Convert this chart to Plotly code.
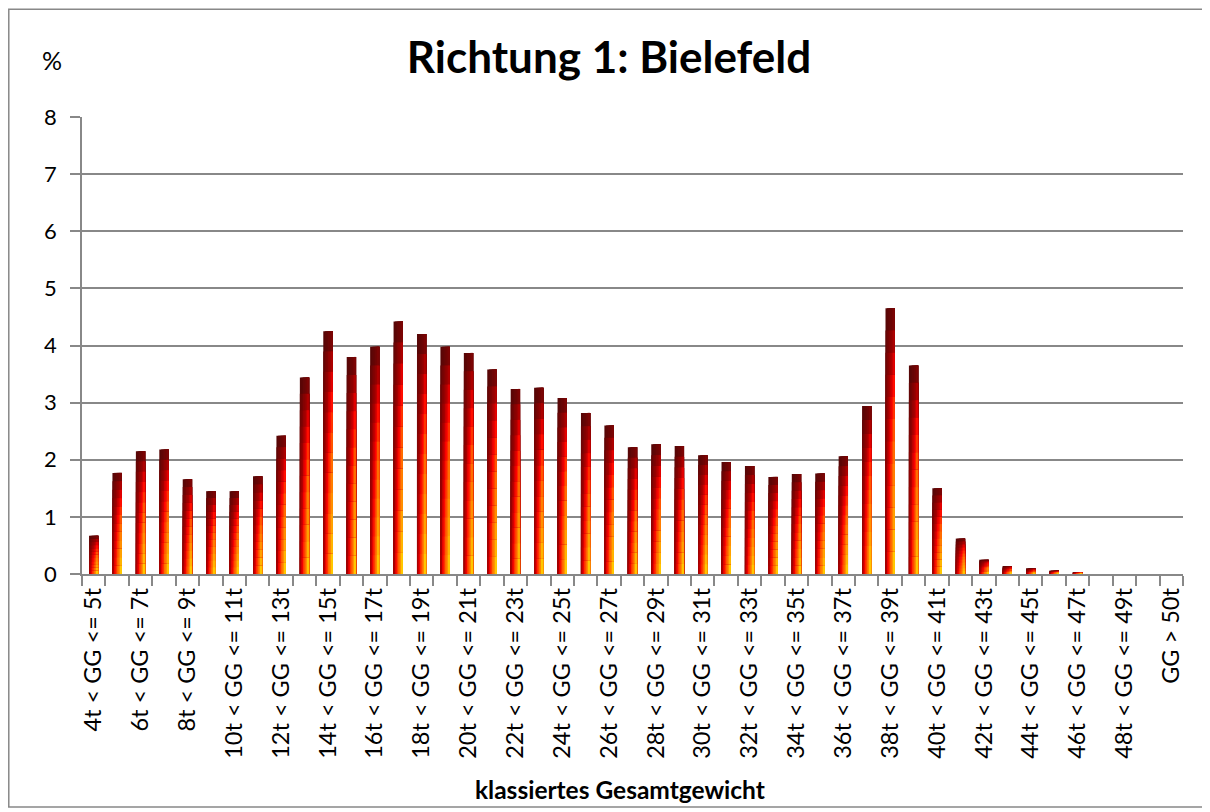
import plotly.graph_objects as go

categories = [
    "4t < GG <= 5t", "5t < GG <= 6t", "6t < GG <= 7t", "7t < GG <= 8t",
    "8t < GG <= 9t", "9t < GG <= 10t", "10t < GG <= 11t", "11t < GG <= 12t",
    "12t < GG <= 13t", "13t < GG <= 14t", "14t < GG <= 15t", "15t < GG <= 16t",
    "16t < GG <= 17t", "17t < GG <= 18t", "18t < GG <= 19t", "19t < GG <= 20t",
    "20t < GG <= 21t", "21t < GG <= 22t", "22t < GG <= 23t", "23t < GG <= 24t",
    "24t < GG <= 25t", "25t < GG <= 26t", "26t < GG <= 27t", "27t < GG <= 28t",
    "28t < GG <= 29t", "29t < GG <= 30t", "30t < GG <= 31t", "31t < GG <= 32t",
    "32t < GG <= 33t", "33t < GG <= 34t", "34t < GG <= 35t", "35t < GG <= 36t",
    "36t < GG <= 37t", "37t < GG <= 38t", "38t < GG <= 39t", "39t < GG <= 40t",
    "40t < GG <= 41t", "41t < GG <= 42t", "42t < GG <= 43t", "43t < GG <= 44t",
    "44t < GG <= 45t", "45t < GG <= 46t", "46t < GG <= 47t", "47t < GG <= 48t",
    "48t < GG <= 49t", "49t < GG <= 50t", "GG > 50t",
]

values = [
    0.67, 1.77, 2.15, 2.18, 1.66, 1.45, 1.45, 1.71,
    2.42, 3.44, 4.25, 3.80, 3.98, 4.42, 4.20, 3.98,
    3.87, 3.58, 3.24, 3.26, 3.08, 2.82, 2.60, 2.22,
    2.27, 2.24, 2.08, 1.96, 1.89, 1.70, 1.75, 1.76,
    2.06, 2.94, 4.65, 3.65, 1.50, 0.62, 0.25, 0.14,
    0.10, 0.06, 0.03, 0.0, 0.0, 0.0, 0.0,
]

# every other category gets a visible label
tick_text = [c if i % 2 == 0 else "" for i, c in enumerate(categories)]

FONT = "Lato, 'Liberation Sans', Arial, sans-serif"

# ---- gradient fill imitation (styling only) ----
stops = [(0.00, (0x48, 0x08, 0x08)), (0.28, (0xa8, 0x00, 0x00)),
         (0.45, (0xff, 0x00, 0x00)), (0.65, (0xff, 0x60, 0x00)),
         (0.85, (0xff, 0x9a, 0x00)), (1.00, (0xff, 0xd0, 0x00))]


def heat(h):
    h = max(0.0, min(1.0, h))
    for (a, ca), (b, cb) in zip(stops[:-1], stops[1:]):
        if h <= b:
            t = (h - a) / (b - a)
            c = [round(ca[k] + (cb[k] - ca[k]) * t) for k in range(3)]
            return "rgb(%d,%d,%d)" % tuple(c)
    return "rgb(%d,%d,%d)" % stops[-1][1]


N_V = 12   # vertical bands
N_H = 6    # horizontal slices
BAR_W = 0.40
sw = BAR_W / N_H

fig = go.Figure()
for j in range(N_V):
    tv = (j + 0.5) / N_V          # 0 = top, 1 = bottom
    frac = (N_V - j) / N_V
    band_y = [v * frac for v in values]
    for i in range(N_H):
        th = (i + 0.5) / N_H      # 0 = left, 1 = right
        h = (tv ** 0.6) * (0.22 + 0.85 * th)
        fig.add_trace(go.Bar(
            x=categories, y=band_y,
            width=BAR_W - i * sw, offset=-BAR_W / 2 + i * sw,
            marker=dict(color=heat(h), line=dict(width=0)),
            showlegend=False, hoverinfo="skip",
        ))

fig.update_layout(
    width=1202, height=804,
    barmode="overlay",
    paper_bgcolor="white", plot_bgcolor="white",
    margin=dict(l=74, r=27, t=109, b=238),
    font=dict(family=FONT, color="black", size=22),
    title=dict(text="<b>Richtung 1: Bielefeld</b>", x=0.5, xanchor="center",
               y=0.938, yanchor="middle", font=dict(size=44, family=FONT)),
    annotations=[
        dict(text="%", xref="paper", yref="paper", x=-0.0272, y=1.1247,
             xanchor="center", yanchor="middle", showarrow=False,
             font=dict(size=25, family=FONT)),
        dict(text="<b>klassiertes Gesamtgewicht</b>", xref="paper", yref="paper",
             x=0.4886, y=-0.4726, xanchor="center", yanchor="middle",
             showarrow=False, font=dict(size=24.5, family=FONT)),
    ],
    shapes=[
        dict(type="rect", xref="paper", yref="paper",
             x0=-0.0665, x1=1.0182, y0=-0.510, y1=1.236,
             line=dict(color="#888888", width=1.5), fillcolor="rgba(0,0,0,0)",
             layer="below"),
    ],
)

fig.update_xaxes(
    type="category",
    tickmode="array", tickvals=categories, ticktext=tick_text,
    tickson="boundaries", ticks="outside", ticklen=10, tickwidth=1.5,
    tickcolor="#888888",
    tickangle=-90, tickfont=dict(size=23.5, family=FONT), ticklabelstandoff=3,
    showline=True, linecolor="#888888", linewidth=1.5,
    showgrid=False, range=[-0.5, 46.5],
)
fig.update_yaxes(
    range=[0, 8], tickmode="linear", tick0=0, dtick=1,
    ticks="outside", ticklen=10, tickwidth=1.5, tickcolor="#888888",
    showgrid=True, gridcolor="#888888", gridwidth=1.5,
    showline=True, linecolor="#888888", linewidth=1.5,
    tickfont=dict(size=22, family=FONT), ticklabelstandoff=9,
    zeroline=False,
)

fig.write_html("out.html")
